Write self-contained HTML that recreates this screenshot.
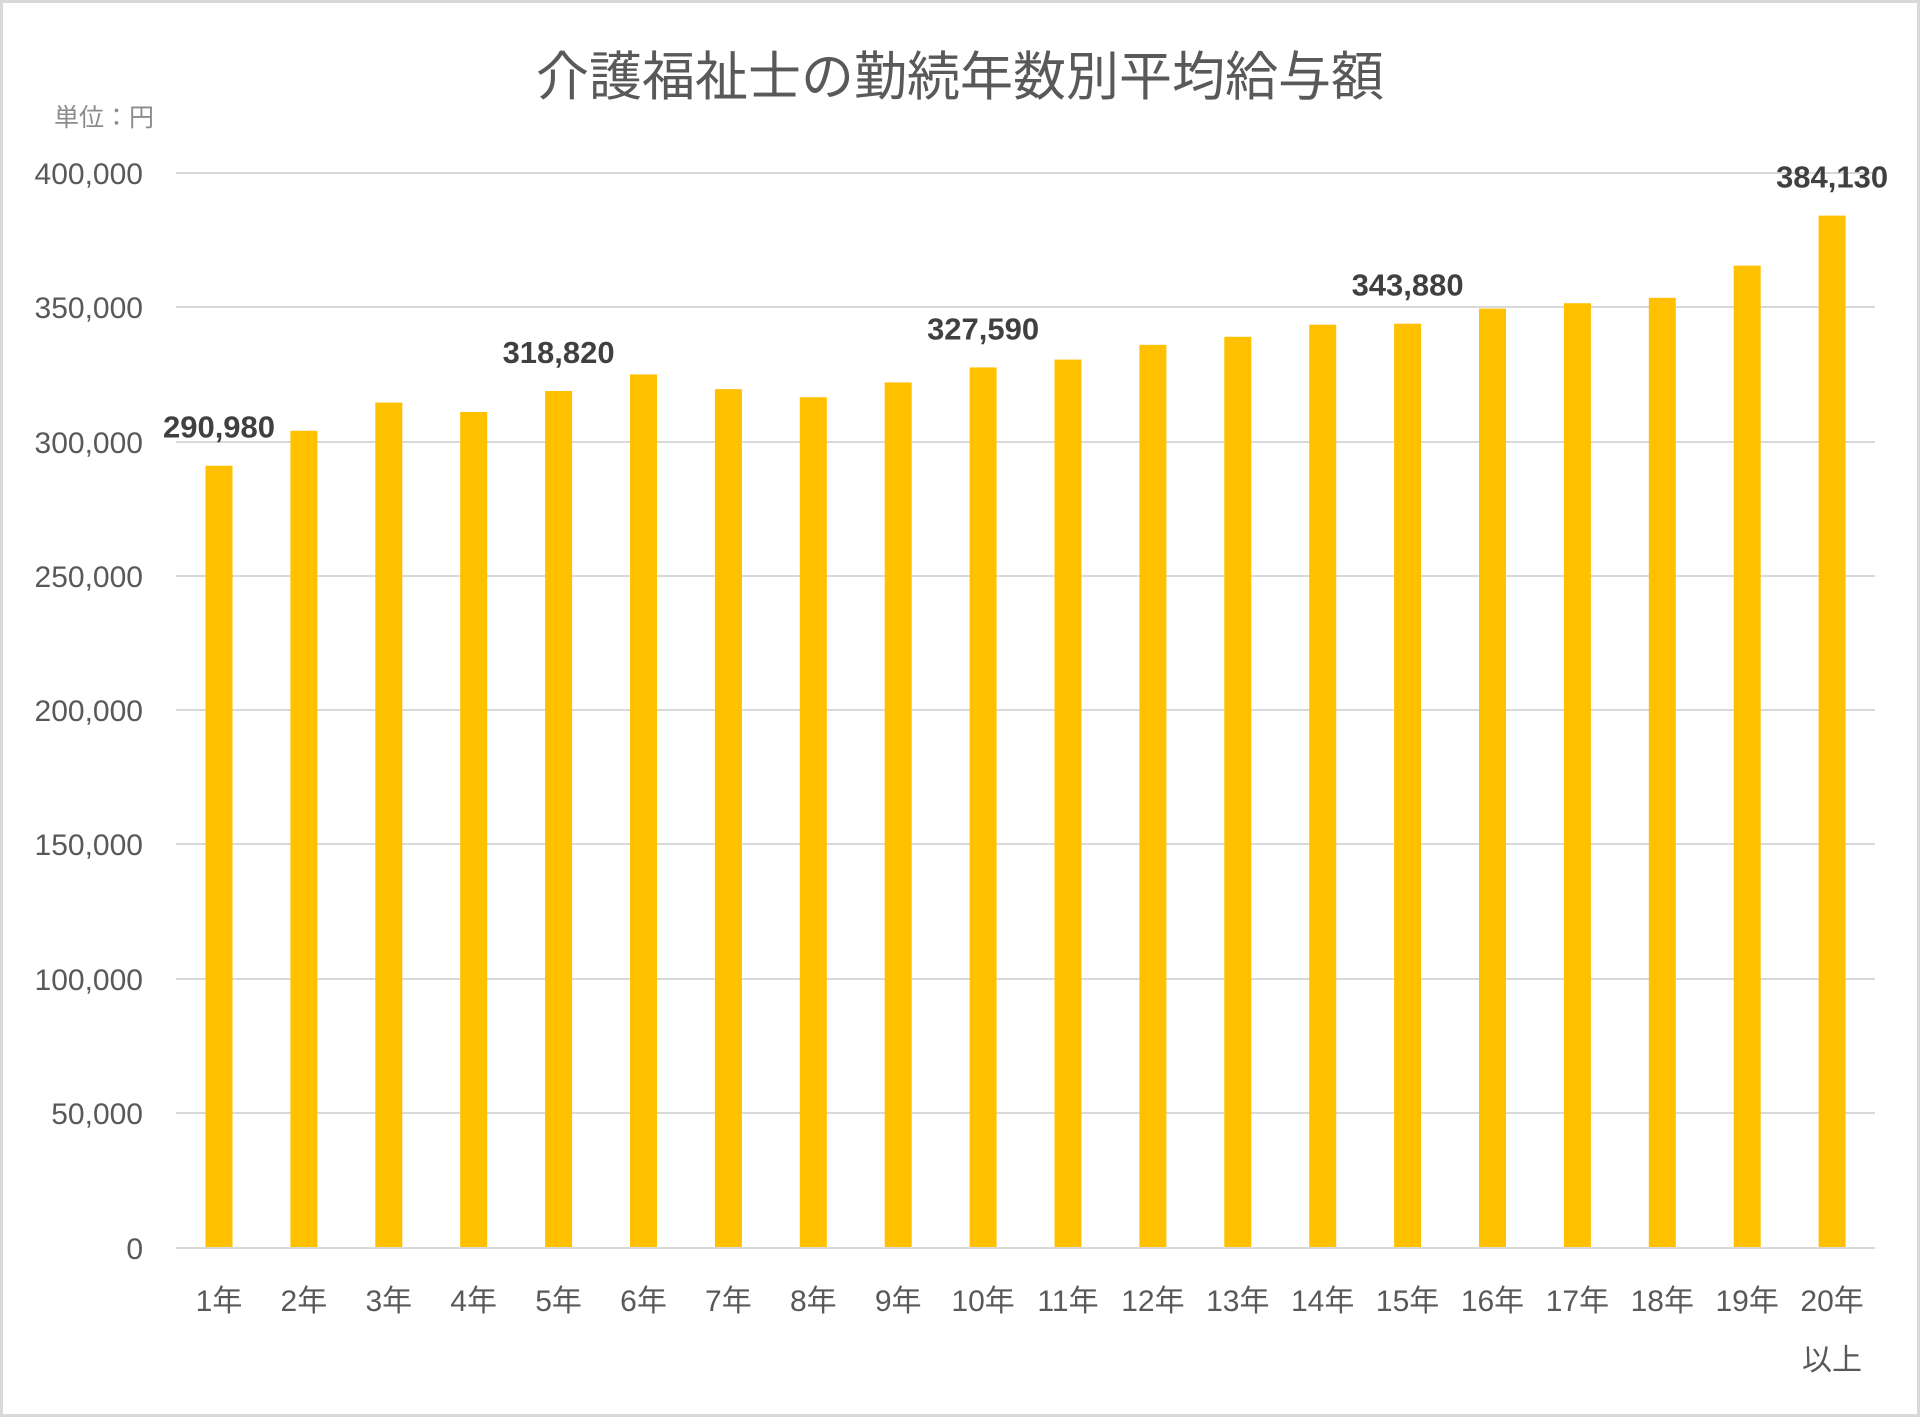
<!DOCTYPE html>
<html><head><meta charset="utf-8"><style>
html,body{margin:0;padding:0;background:#fff;}
svg{display:block;}
</style></head><body>
<svg width="1920" height="1417" viewBox="0 0 1920 1417" xmlns="http://www.w3.org/2000/svg" font-family="'Liberation Sans','Noto Sans CJK JP',sans-serif">
<rect x="1.5" y="1.5" width="1917" height="1414" fill="#fff" stroke="#d9d9d9" stroke-width="3"/>
<text x="960" y="95" text-anchor="middle" font-size="53" fill="#595959">介護福祉士の勤続年数別平均給与額</text>
<text x="54" y="126" font-size="25" fill="#8c8c8c">単位：円</text>
<g stroke="#d9d9d9" stroke-width="2">
<line x1="176" x2="1875" y1="173" y2="173"/><line x1="176" x2="1875" y1="307" y2="307"/>
<line x1="176" x2="1875" y1="442" y2="442"/><line x1="176" x2="1875" y1="576" y2="576"/>
<line x1="176" x2="1875" y1="710" y2="710"/><line x1="176" x2="1875" y1="844" y2="844"/>
<line x1="176" x2="1875" y1="979" y2="979"/><line x1="176" x2="1875" y1="1113" y2="1113"/>
<line x1="176" x2="1875" y1="1248" y2="1248"/>
</g>
<g font-size="30" fill="#595959" text-anchor="end">
<text x="143" y="184">400,000</text><text x="143" y="318">350,000</text><text x="143" y="453">300,000</text>
<text x="143" y="587">250,000</text><text x="143" y="721">200,000</text><text x="143" y="855">150,000</text>
<text x="143" y="990">100,000</text><text x="143" y="1124">50,000</text><text x="143" y="1259">0</text>
</g>
<g fill="#ffc000" id="bars"></g>
<g font-size="30" fill="#595959" text-anchor="middle" id="xl"></g>
<g font-size="31" font-weight="bold" fill="#404040" text-anchor="middle" id="dl"></g>
<text x="1832" y="1370" font-size="30" fill="#595959" text-anchor="middle">以上</text>
<script>
var v=[290980,304000,314500,311000,318820,325000,319500,316500,322000,327590,330500,336000,339000,343500,343880,349500,351500,353500,365500,384130];
var lab={0:1,4:1,9:1,14:1,19:1};
var ns="http://www.w3.org/2000/svg",b=document.getElementById('bars'),x=document.getElementById('xl'),d=document.getElementById('dl');
for(var i=0;i<20;i++){var c=219+i*84.9,t=1247-v[i]*0.002685;
var r=document.createElementNS(ns,'rect');r.setAttribute('x',c-13.5);r.setAttribute('y',t);r.setAttribute('width',27);r.setAttribute('height',1247-t);b.appendChild(r);
var s=document.createElementNS(ns,'text');s.setAttribute('x',c);s.setAttribute('y',1311);s.textContent=(i+1)+'年';x.appendChild(s);
if(lab[i]){var q=document.createElementNS(ns,'text');q.setAttribute('x',c);q.setAttribute('y',t-28);q.textContent=v[i].toLocaleString('en-US');d.appendChild(q);}}
</script>
</svg>
</body></html>
